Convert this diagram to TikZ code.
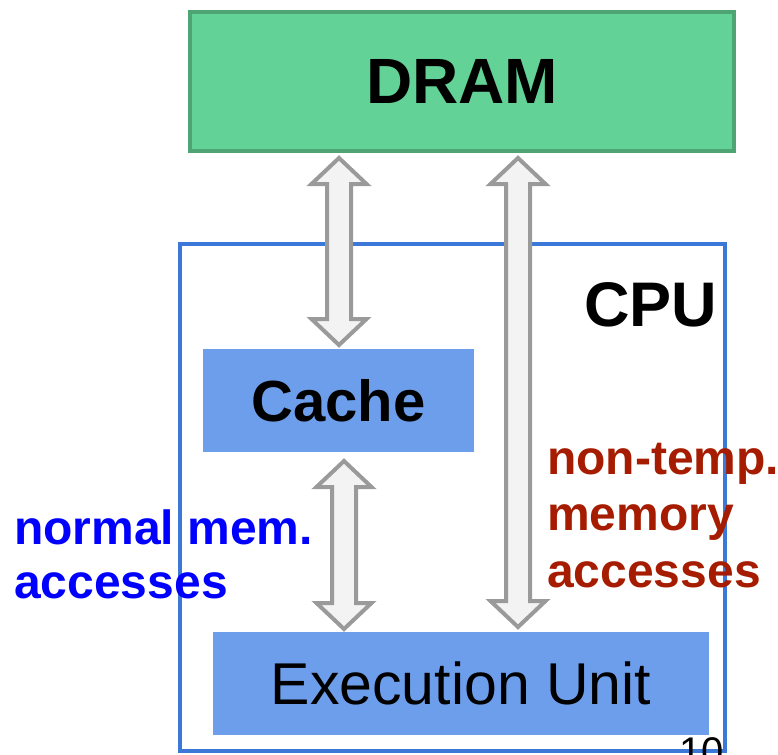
\documentclass[tikz,border=0pt]{standalone}
\usepackage{fontspec}
\setmainfont{Liberation Sans}
\usetikzlibrary{calc}
\definecolor{dramfill}{HTML}{62D296}
\definecolor{dramline}{HTML}{4EA472}
\definecolor{boxfill}{HTML}{6D9EEB}
\definecolor{cpuline}{HTML}{3C78D8}
\definecolor{arrline}{HTML}{9A9A9A}
\definecolor{arrfill}{HTML}{F3F3F3}
\definecolor{normblue}{HTML}{0000FF}
\definecolor{ntred}{HTML}{A61C00}
\newcommand\fsz[1]{\fontsize{#1}{#1}\selectfont}
\newcommand\dblarrow[2]{%
  \draw[arr] ($(#1)+(-12,26)$) -- ($(#1)+(-27.5,26)$) -- (#1) -- ($(#1)+(27.5,26)$) -- ($(#1)+(12,26)$)
    -- ($(#2)+(12,-26)$) -- ($(#2)+(27.5,-26)$) -- (#2) -- ($(#2)+(-27.5,-26)$) -- ($(#2)+(-12,-26)$) -- cycle;}
\tikzset{
  arr/.style={draw=arrline, fill=arrfill, line width=4pt, line join=miter},
  bluebox/.style={fill=boxfill, draw=none, inner sep=0pt},
  lbl/.style={font=\fsz{48}\bfseries, inner sep=0pt, align=left}
}
\begin{document}
\begin{tikzpicture}[x=1pt,y=-1pt]
\useasboundingbox (0,0) rectangle (778,754);
% CPU frame
\node[draw=cpuline, line width=4pt, minimum width=545pt, minimum height=507pt, inner sep=0pt] (cpu) at (452.5,497.5) {};
\node[anchor=base, font=\fsz{63}\bfseries, inner sep=0pt] (cpulbl) at (650.5,326) {CPU};
% DRAM
\node[draw=dramline, fill=dramfill, line width=4pt, minimum width=544pt, minimum height=139pt, inner sep=0pt, font=\fsz{64}\bfseries] (dram) at (462,81.5) {DRAM};
% Cache
\node[bluebox, minimum width=271pt, minimum height=103pt, font=\fsz{58}\bfseries] (cache) at (338.5,400.5) {Cache};
% Execution unit
\node[bluebox, minimum width=496pt, minimum height=103pt, font=\fsz{59}] (exec) at (461,683.5) {Execution Unit};
% labels
\node[lbl, text=normblue, anchor=base west] (normal) at (14,598) {normal mem.\\[6pt]accesses};
\node[lbl, text=ntred, anchor=base west] (nontemp) at (547,587) {non-temp.\\[8.5pt]memory\\[8.5pt]accesses};
% arrows
\coordinate (a1t) at (339,158);
\coordinate (a1b) at (339,345);
\coordinate (a2t) at (344,461);
\coordinate (a2b) at (344,629);
\coordinate (a3t) at (518,158);
\coordinate (a3b) at (518,627);
\dblarrow{a1t}{a1b}
\dblarrow{a2t}{a2b}
\dblarrow{a3t}{a3b}
% page number
\node[anchor=base east, font=\fsz{40}, inner sep=0pt] (pnum) at (724,765) {10};
\end{tikzpicture}
\end{document}
